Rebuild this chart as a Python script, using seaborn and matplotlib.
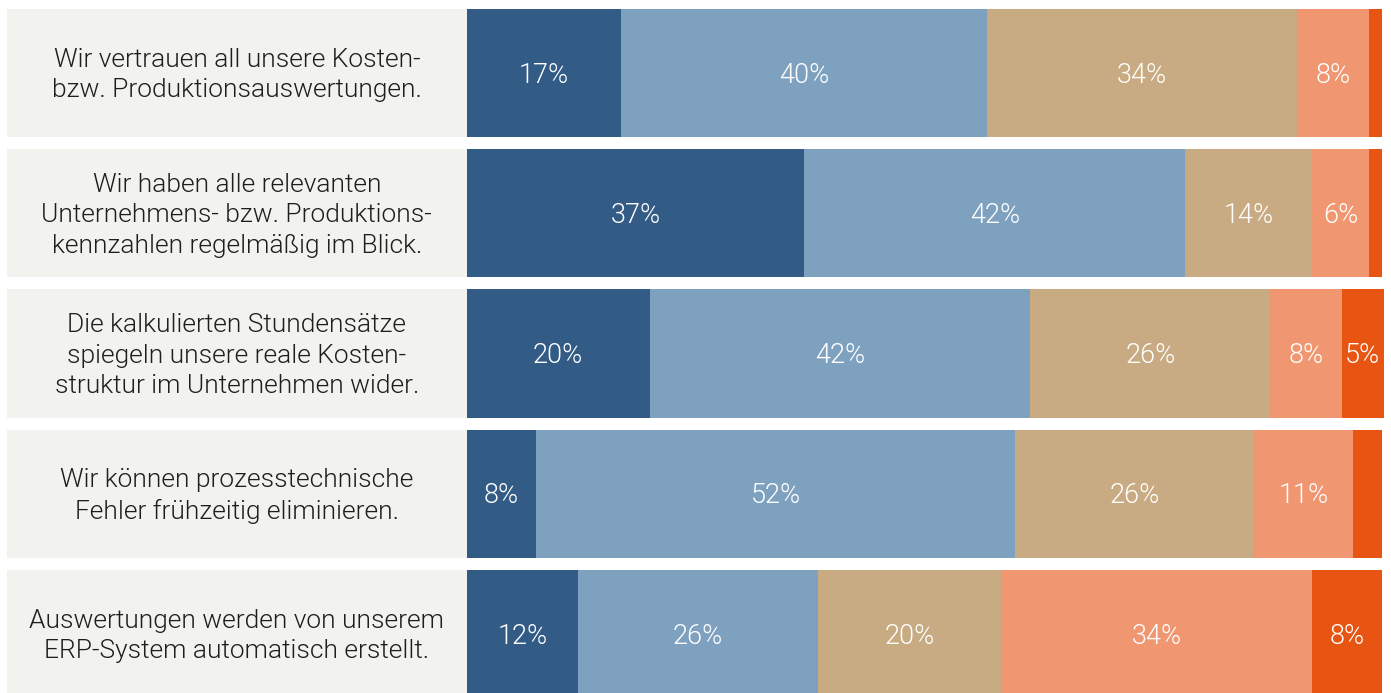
import numpy as np
import pandas as pd
import seaborn as sns
import matplotlib.pyplot as plt

# Statements (left panel) and answer shares in percent
statements = [
    "Wir vertrauen all unsere Kosten-\nbzw. Produktionsauswertungen.",
    "Wir haben alle relevanten\nUnternehmens- bzw. Produktions-\nkennzahlen regelmäßig im Blick.",
    "Die kalkulierten Stundensätze\nspiegeln unsere reale Kosten-\nstruktur im Unternehmen wider.",
    "Wir können prozesstechnische\nFehler frühzeitig eliminieren.",
    "Auswertungen werden von unserem\nERP-System automatisch erstellt.",
]
answers = ["trifft voll zu", "trifft eher zu", "teils/teils", "trifft eher nicht zu", "trifft nicht zu"]
share_1 = [16.9, 36.9, 20.0, 7.6, 12.2]
share_2 = [40.0, 41.6, 41.6, 52.3, 26.2]
share_3 = [33.8, 13.9, 26.2, 26.1, 20.0]
share_4 = [7.9, 6.2, 7.8, 10.9, 34.0]
share_5 = [1.4, 1.4, 4.6, 3.1, 7.6]
colors = ["#325b85", "#7ea1c0", "#c8ab82", "#f09670", "#e85412"]

df = pd.DataFrame({"statement": statements})
for name, vals in zip(answers, [share_1, share_2, share_3, share_4, share_5]):
    df[name] = vals
cum = df[answers].cumsum(axis=1)

sns.set_theme(style="white")
plt.rcParams["font.family"] = ["Roboto", "DejaVu Sans"]

fig = plt.figure(figsize=(13.91, 6.93), dpi=100)
ax = fig.add_axes([0, 0, 1, 1])

bar_h = 0.913
panel_w = 50.2

# grey label panel, drawn as a negative bar
sns.barplot(x=[-panel_w] * len(statements), y=df["statement"], orient="h",
            color="#f2f2ee", width=bar_h, saturation=1, linewidth=0, ax=ax)

# stacked bars: cumulative sums, widest first
for name, col in reversed(list(zip(answers, colors))):
    sns.barplot(x=cum[name], y=df["statement"], orient="h", color=col,
                width=bar_h, saturation=1, linewidth=0, ax=ax)

for i, s in enumerate(statements):
    ax.text(-panel_w / 2, i + 0.015, s, ha="center", va="center", fontsize=19,
            color="#1e1e1e", linespacing=1.33, fontweight=300)
    left = 0
    for name in answers:
        v = df.loc[i, name]
        if v >= 4.5:
            ax.text(left + v / 2, i + 0.015, f"{v:.0f}%", ha="center", va="center",
                    fontsize=19.5, color="white", fontweight=300)
        left += v

ax.set_xlim(-50.98, 101.0)
ax.set_ylim(4.42, -0.52)
ax.set_xlabel("")
ax.set_ylabel("")
ax.set_xticks([])
ax.set_yticks([])
sns.despine(ax=ax, left=True, bottom=True)

fig.savefig("out.png", dpi=100)
